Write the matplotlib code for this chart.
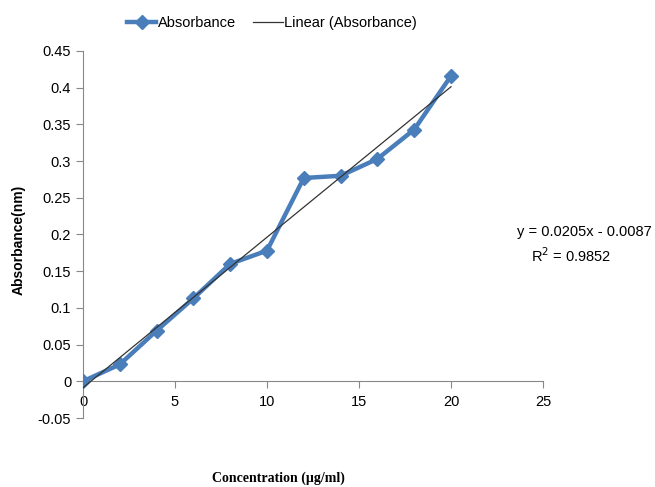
import numpy as np
import matplotlib
matplotlib.use("Agg")
import matplotlib.pyplot as plt

# data
concentration = [0, 2, 4, 6, 8, 10, 12, 14, 16, 18, 20]
absorbance = [0.0, 0.023, 0.069, 0.113, 0.160, 0.178, 0.277, 0.280, 0.303, 0.343, 0.416]
slope = 0.0205
intercept = -0.0087
r_squared = 0.9852

plt.rcParams['font.family'] = ['Liberation Sans', 'DejaVu Sans']

fig = plt.figure(figsize=(6.55, 4.87), dpi=100)
ax = fig.add_axes([83 / 655, 1 - 418 / 487, 460 / 655, 367 / 487])

blue = '#4A7EBB'
ax.plot(concentration, absorbance, color=blue, lw=3.2, marker='D', ms=7,
        label='Absorbance', zorder=3)

# linear trendline
x_fit = np.array([concentration[0], concentration[-1]])
ax.plot(x_fit, slope * x_fit + intercept, color='#333333', lw=0.9,
        label='Linear (Absorbance)', zorder=4)

ax.set_xlim(0, 25)
ax.set_ylim(-0.05, 0.45)
ax.set_xticks([0, 5, 10, 15, 20, 25])
ax.set_yticks(np.arange(-0.05, 0.451, 0.05))
ax.set_yticklabels(['-0.05', '0', '0.05', '0.1', '0.15', '0.2', '0.25', '0.3', '0.35', '0.4', '0.45'])

axis_gray = '#888888'
ax.spines['top'].set_visible(False)
ax.spines['right'].set_visible(False)
ax.spines['bottom'].set_position(('data', 0))
ax.spines['left'].set_color(axis_gray)
ax.spines['bottom'].set_color(axis_gray)
ax.tick_params(axis='both', colors=axis_gray, labelcolor='black', labelsize=10.5,
               length=5, direction='out')
ax.tick_params(axis='x', pad=5)

fig.text(19 / 655, 1 - 240 / 487, 'Absorbance(nm)', rotation=90,
         ha='center', va='center', fontsize=10, fontweight='bold')
fig.text(278 / 655, 1 - 478 / 487, 'Concentration (µg/ml)', ha='center', va='center',
         fontsize=10, fontweight='bold', family=['Liberation Serif', 'DejaVu Serif'])

fig.text(652 / 655, 1 - 232 / 487, f'y = {slope}x - {abs(intercept)}', ha='right',
         va='center', fontsize=10.5)
fig.text(571 / 655, 1 - 256 / 487, f'R$^2$ = {r_squared}', ha='center', va='center',
         fontsize=10.5)

fig.legend(loc='center', bbox_to_anchor=(272 / 655, 1 - 23 / 487), ncol=2,
           frameon=False, fontsize=10.5, handlelength=2.0, handletextpad=0.1,
           columnspacing=1.2, markerscale=1.0)

fig.savefig('out.png', dpi=100)
